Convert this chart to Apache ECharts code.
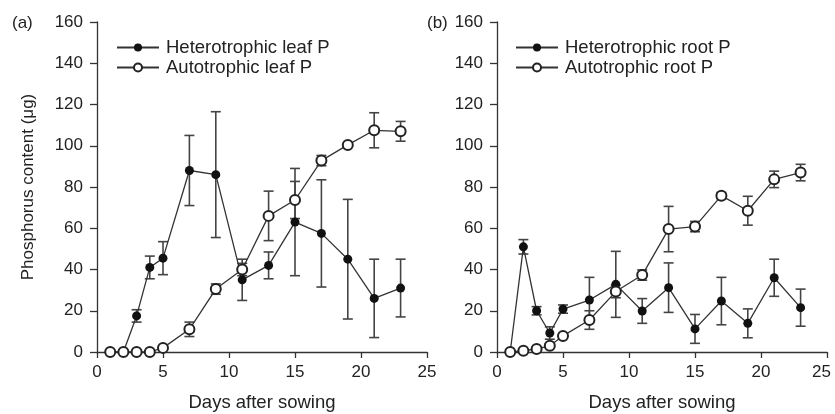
<!DOCTYPE html>
<html>
<head>
<meta charset="utf-8">
<script src="https://cdn.jsdelivr.net/npm/echarts@6/dist/echarts.min.js"></script>
<style>
html,body{margin:0;padding:0;background:#fff;}
#chart{width:835px;height:414px;}
</style>
</head>
<body>
<div id="chart"></div>
<script>
// ---- data ----
const days = [1, 2, 3, 4, 5, 7, 9, 11, 13, 15, 17, 19, 21, 23];
const heteroLeaf    = [0, 0, 17.5, 41, 45.5, 88, 86, 35, 42, 63, 57.5, 45, 26, 31];
const heteroLeafErr = [0, 0, 3, 5.5, 8, 17, 30.5, 10, 6.5, 26, 26, 29, 19, 14];
const autoLeaf      = [0, 0, 0, 0, 2, 11, 30.5, 40, 66, 73.7, 92.8, 100.4, 107.5, 107];
const autoLeafErr   = [0, 0, 0, 0, 1, 3.5, 2.5, 3, 12, 9, 2.5, 1, 8.5, 4.8];
const heteroRoot    = [0, 51, 20, 9.2, 20.8, 25.2, 32.8, 19.9, 31.2, 11.2, 24.7, 13.9, 36, 21.5];
const heteroRootErr = [0, 3.5, 2, 3, 2, 11, 16, 6, 12, 7, 11.5, 7, 9, 9];
const autoRoot      = [0, 0.6, 1.5, 3, 7.8, 15.5, 29.3, 37.3, 59.6, 60.8, 75.8, 68.5, 83.7, 87];
const autoRootErr   = [0, 0, 0.5, 1, 1, 4.5, 3, 2.5, 11, 2.5, 1.5, 7, 4, 4];
const xTicks = [0, 5, 10, 15, 20, 25];
const yTicks = [0, 20, 40, 60, 80, 100, 120, 140, 160];

const FONT = 'Liberation Sans';
const TXT = '#222';
const AX = '#333';
const FS = 17;
const FS_BIG = 18.5;

function pts(vals) { return days.map((d, i) => [d, vals[i]]); }
function errPts(vals, errs) { return days.map((d, i) => [d, vals[i], errs[i]]); }

function errRender(params, api) {
  const x = api.value(0), y = api.value(1), e = api.value(2);
  if (!e) return null;
  const t = api.coord([x, y + e]);
  const b = api.coord([x, y - e]);
  const w = 5;
  const st = { stroke: '#444', lineWidth: 1.6 };
  return {
    type: 'group',
    children: [
      { type: 'line', shape: { x1: t[0], y1: t[1], x2: b[0], y2: b[1] }, style: st },
      { type: 'line', shape: { x1: t[0] - w, y1: t[1], x2: t[0] + w, y2: t[1] }, style: st },
      { type: 'line', shape: { x1: b[0] - w, y1: b[1], x2: b[0] + w, y2: b[1] }, style: st }
    ]
  };
}

function xAxis(gi, shiftLast) {
  return {
    type: 'value', gridIndex: gi, min: 0, max: 25, interval: 5,
    name: 'Days after sowing', nameLocation: 'middle', nameGap: 41,
    nameTextStyle: { fontFamily: FONT, fontSize: FS_BIG, color: TXT },
    axisLine: { show: true, lineStyle: { color: AX, width: 1.3 } },
    axisTick: { show: true, inside: false, length: 6, lineStyle: { color: AX, width: 1.3 } },
    axisLabel: { margin: 12, fontFamily: FONT, fontSize: FS, color: TXT,
      formatter: v => {
        if (!xTicks.includes(v)) return '';
        if (shiftLast && v === xTicks[xTicks.length - 1]) return '{r|' + v + '}';
        return String(v);
      },
      rich: { r: { fontFamily: FONT, fontSize: FS, color: TXT, padding: [0, 11, 0, 0] } }
    },
    splitLine: { show: false }
  };
}
function yAxis(gi, withName) {
  return {
    type: 'value', gridIndex: gi, min: 0, max: 160, interval: 20,
    name: withName ? 'Phosphorus content (μg)' : '', nameLocation: 'middle', nameGap: 60,
    nameRotate: 90,
    nameTextStyle: { fontFamily: FONT, fontSize: FS, color: TXT },
    axisLine: { show: true, lineStyle: { color: AX, width: 1.3 } },
    axisTick: { show: true, inside: false, length: 7, lineStyle: { color: AX, width: 1.3 } },
    axisLabel: { margin: 14, fontFamily: FONT, fontSize: FS, color: TXT,
      formatter: v => yTicks.includes(v) ? String(v) : '' },
    splitLine: { show: false }
  };
}

function lineSeries(name, gi, vals, filled) {
  return {
    type: 'line', name: name, xAxisIndex: gi, yAxisIndex: gi,
    data: pts(vals),
    symbol: filled ? 'circle' : 'emptyCircle',
    symbolSize: filled ? 9 : 10,
    lineStyle: { color: '#333', width: 1.3 },
    itemStyle: { color: filled ? '#111' : '#222', borderWidth: filled ? 0 : 1.5 },
    z: 5, animation: false
  };
}
function errSeries(gi, vals, errs) {
  return {
    type: 'custom', xAxisIndex: gi, yAxisIndex: gi,
    data: errPts(vals, errs), renderItem: errRender,
    encode: { x: 0, y: 1 }, z: 3, silent: true, animation: false
  };
}

const legendCommon = {
  orient: 'vertical', top: 38, padding: 0,
  itemWidth: 42, itemHeight: 10, itemGap: 1,
  textStyle: { fontFamily: FONT, fontSize: FS_BIG, color: TXT, padding: [0, 0, 0, 2] }
};

const chart = echarts.init(document.getElementById('chart'), null, { renderer: 'canvas' });
chart.setOption({
  backgroundColor: '#fff',
  animation: false,
  textStyle: { fontFamily: FONT },
  graphic: [
    { type: 'text', left: 12, top: 15, style: { text: '(a)', font: FS + 'px ' + FONT, fill: TXT } },
    { type: 'text', left: 427, top: 15, style: { text: '(b)', font: FS + 'px ' + FONT, fill: TXT } }
  ],
  grid: [
    { left: 97, top: 22, width: 330, height: 330, containLabel: false, outerBoundsMode: 'none' },
    { left: 497, top: 22, width: 330, height: 330, containLabel: false, outerBoundsMode: 'none' }
  ],
  legend: [
    Object.assign({ data: ['Heterotrophic leaf P', 'Autotrophic leaf P'], left: 116 }, legendCommon),
    Object.assign({ data: ['Heterotrophic root P', 'Autotrophic root P'], left: 515 }, legendCommon)
  ],
  xAxis: [xAxis(0, false), xAxis(1, true)],
  yAxis: [yAxis(0, true), yAxis(1, false)],
  series: [
    errSeries(0, heteroLeaf, heteroLeafErr),
    errSeries(0, autoLeaf, autoLeafErr),
    lineSeries('Heterotrophic leaf P', 0, heteroLeaf, true),
    lineSeries('Autotrophic leaf P', 0, autoLeaf, false),
    errSeries(1, heteroRoot, heteroRootErr),
    errSeries(1, autoRoot, autoRootErr),
    lineSeries('Heterotrophic root P', 1, heteroRoot, true),
    lineSeries('Autotrophic root P', 1, autoRoot, false)
  ]
});
</script>
</body>
</html>
